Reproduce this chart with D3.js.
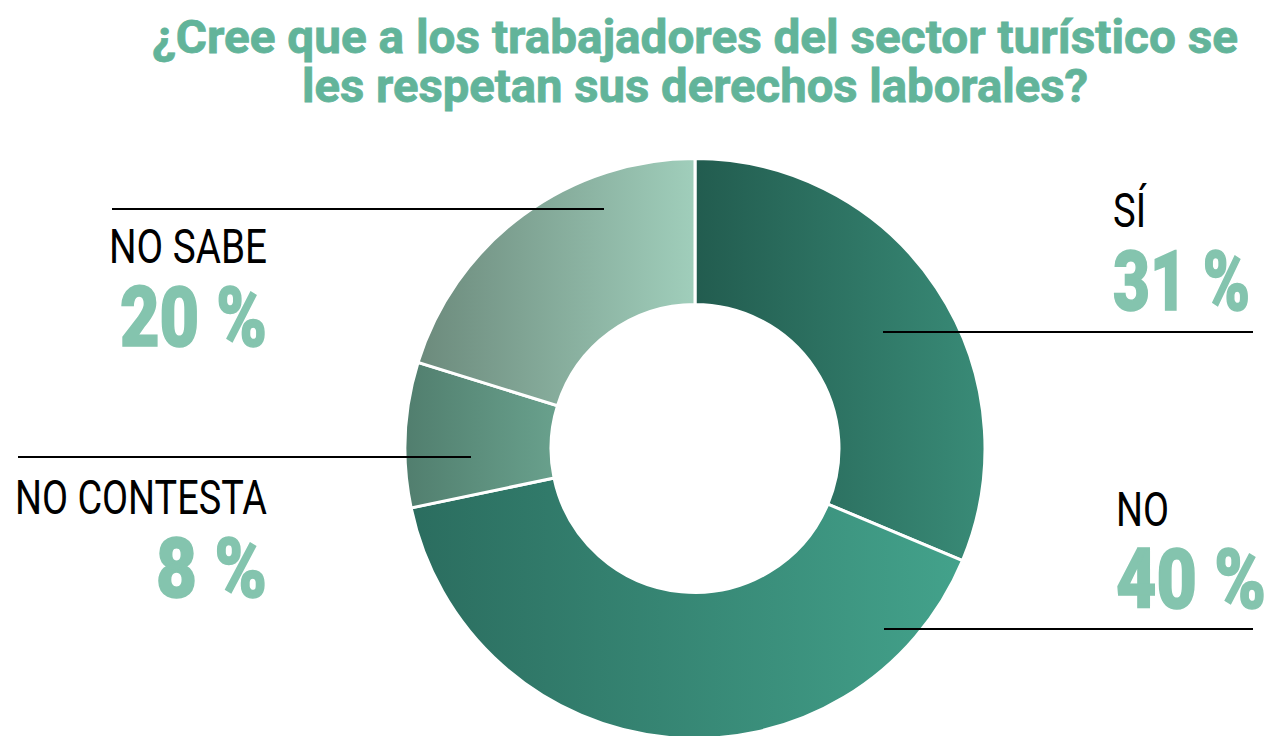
<!DOCTYPE html>
<html lang="es">
<head>
<meta charset="utf-8">
<script src="https://cdn.jsdelivr.net/npm/d3@7"></script>
<style>
  html, body { margin: 0; padding: 0; background: #ffffff; }
  svg { display: block; }
</style>
</head>
<body>
<svg id="chart" width="1270" height="736"></svg>
<script>
// Survey answers, in drawing order (clockwise from 12 o'clock)
const categories = ["SÍ", "NO", "NO CONTESTA", "NO SABE"];
const values = [31, 40, 8, 20];
const percentLabels = values.map(v => `${v} %`);
const titleLines = [
  "¿Cree que a los trabajadores del sector turístico se",
  "les respetan sus derechos laborales?"
];

// Horizontal gradient (left colour, right colour) for each slice
const sliceGradients = [
  ["#225c4f", "#398b77"],
  ["#2b6d5f", "#43a28b"],
  ["#517e6e", "#69a18d"],
  ["#6c8a7c", "#a0cebb"]
];

// Label placement: text anchor x, label baseline, percent baseline,
// leader line extent and height, text widths
const labelLayout = [
  { anchor: "start", x: 1113, yLabel: 227, yPct: 310, line: [883, 1253, 332], wLabel: 33,  wPct: 137 },
  { anchor: "start", x: 1116, yLabel: 526, yPct: 608, line: [884, 1253, 629], wLabel: 53,  wPct: 150 },
  { anchor: "end",   x: 267,  yLabel: 514, yPct: 597, line: [18, 471, 457],   wLabel: 252, wPct: 111 },
  { anchor: "end",   x: 267,  yLabel: 263, yPct: 346, line: [112, 604, 209],  wLabel: 158, wPct: 147 }
];

const svg = d3.select("#chart");
const cx = 695, cy = 448.5;
const outerR = 290, innerR = 144;

// Title
const titleWidths = [1086, 786];
const titleBaselines = [53, 102];
svg.append("g")
  .selectAll("text")
  .data(titleLines)
  .join("text")
  .attr("x", cx)
  .attr("y", (d, i) => titleBaselines[i])
  .attr("text-anchor", "middle")
  .attr("textLength", (d, i) => titleWidths[i])
  .attr("lengthAdjust", "spacingAndGlyphs")
  .attr("font-family", "Roboto, 'Open Sans', sans-serif")
  .attr("font-weight", 700)
  .attr("font-size", 46)
  .attr("fill", "#62b49a")
  .attr("stroke", "#62b49a")
  .attr("stroke-width", 0.8)
  .text(d => d);

// Gradients
const defs = svg.append("defs");
sliceGradients.forEach((g, i) => {
  const lg = defs.append("linearGradient")
    .attr("id", `grad-${i}`)
    .attr("x1", 0).attr("y1", 0)
    .attr("x2", 1).attr("y2", 0);
  lg.append("stop").attr("offset", "0%").attr("stop-color", g[0]);
  lg.append("stop").attr("offset", "100%").attr("stop-color", g[1]);
});

// Donut
const pie = d3.pie().sort(null).value(d => d);
const arc = d3.arc().innerRadius(innerR).outerRadius(outerR);
const arcs = pie(values);

svg.append("g")
  .attr("transform", `translate(${cx},${cy})`)
  .selectAll("path")
  .data(arcs)
  .join("path")
  .attr("d", arc)
  .attr("fill", (d, i) => `url(#grad-${i})`)
  .attr("stroke", "#ffffff")
  .attr("stroke-width", 3)
  .attr("stroke-linejoin", "miter");

// Leader lines
svg.append("g")
  .selectAll("line")
  .data(labelLayout)
  .join("line")
  .attr("x1", d => d.line[0])
  .attr("x2", d => d.line[1])
  .attr("y1", d => d.line[2])
  .attr("y2", d => d.line[2])
  .attr("stroke", "#000000")
  .attr("stroke-width", 2);

// Category names and percentages
const labels = svg.append("g")
  .selectAll("g")
  .data(categories)
  .join("g");

labels.append("text")
  .attr("x", (d, i) => labelLayout[i].x)
  .attr("y", (d, i) => labelLayout[i].yLabel)
  .attr("text-anchor", (d, i) => labelLayout[i].anchor)
  .attr("textLength", (d, i) => labelLayout[i].wLabel)
  .attr("lengthAdjust", "spacingAndGlyphs")
  .attr("font-family", "Roboto, 'Open Sans', sans-serif")
  .attr("font-weight", 400)
  .attr("font-size", 49)
  .attr("fill", "#000000")
  .text(d => d);

labels.append("text")
  .attr("x", (d, i) => labelLayout[i].x)
  .attr("y", (d, i) => labelLayout[i].yPct)
  .attr("text-anchor", (d, i) => labelLayout[i].anchor)
  .attr("textLength", (d, i) => labelLayout[i].wPct)
  .attr("lengthAdjust", "spacingAndGlyphs")
  .attr("font-family", "Roboto, 'Open Sans', sans-serif")
  .attr("font-weight", 900)
  .attr("font-size", 83)
  .attr("fill", "#84c4ae")
  .attr("stroke", "#84c4ae")
  .attr("stroke-width", 1.6)
  .text((d, i) => percentLabels[i]);
</script>
</body>
</html>
